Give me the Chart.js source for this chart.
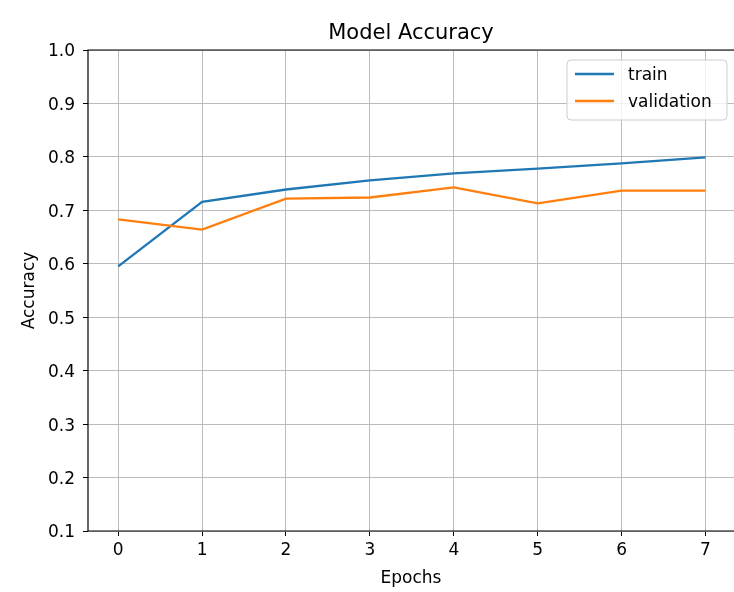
<!DOCTYPE html>
<html>
<head>
<meta charset="utf-8">
<title>Model Accuracy</title>
<script src="https://cdn.jsdelivr.net/npm/chart.js@4/dist/chart.umd.min.js"></script>
<style>
  html, body { margin: 0; padding: 0; background: #ffffff; }
  #wrap { width: 734px; height: 592px; position: relative; }
</style>
</head>
<body>
<div id="wrap"><canvas id="acc"></canvas></div>
<script>
// Training history: accuracy per epoch
const epochs = [0, 1, 2, 3, 4, 5, 6, 7];
const trainAcc = [0.595, 0.716, 0.739, 0.756, 0.769, 0.778, 0.788, 0.799];
const valAcc = [0.683, 0.664, 0.722, 0.724, 0.743, 0.713, 0.737, 0.737];
const xTicks = [0, 1, 2, 3, 4, 5, 6, 7];
const yTicks = [0.1, 0.2, 0.3, 0.4, 0.5, 0.6, 0.7, 0.8, 0.9, 1.0];
const seriesNames = ['train', 'validation'];
const seriesColors = ['#1f77b4', '#ff7f0e'];

const FONT = "'DejaVu Sans', 'Liberation Sans', sans-serif";

// Axes spines (left, top, bottom) drawn over the lines
const framePlugin = {
  id: 'frame',
  afterDatasetsDraw(chart) {
    const { ctx, chartArea: a } = chart;
    ctx.save();
    ctx.strokeStyle = '#000000';
    ctx.lineWidth = 1.2;
    ctx.beginPath();
    ctx.moveTo(a.right, a.top);
    ctx.lineTo(a.left, a.top);
    ctx.lineTo(a.left, a.bottom);
    ctx.lineTo(a.right, a.bottom);
    ctx.stroke();
    ctx.restore();
  }
};

// Title centred above the plot area
const titlePlugin = {
  id: 'plotTitle',
  afterDraw(chart) {
    const { ctx, chartArea: a } = chart;
    ctx.save();
    ctx.fillStyle = '#000000';
    ctx.font = '21px ' + FONT;
    ctx.textAlign = 'center';
    ctx.textBaseline = 'middle';
    ctx.fillText('Model Accuracy', (a.left + a.right) / 2, 34);
    ctx.restore();
  }
};

// Boxed legend in the upper-right corner of the plot
const legendPlugin = {
  id: 'boxLegend',
  afterDraw(chart) {
    const { ctx, chartArea: a } = chart;
    const right = 727, top = a.top + 10;
    const w = 160, h = 60, r = 4;
    const left = right - w;
    ctx.save();
    ctx.beginPath();
    ctx.roundRect(left, top, w, h, r);
    ctx.fillStyle = 'rgba(255,255,255,0.8)';
    ctx.fill();
    ctx.strokeStyle = '#cccccc';
    ctx.lineWidth = 1;
    ctx.stroke();
    ctx.font = '17px ' + FONT;
    ctx.textBaseline = 'middle';
    ctx.textAlign = 'left';
    chart.data.datasets.forEach((ds, i) => {
      const y = top + 14 + i * 27;
      ctx.beginPath();
      ctx.moveTo(left + 8, y);
      ctx.lineTo(left + 47, y);
      ctx.strokeStyle = ds.borderColor;
      ctx.lineWidth = 2.3;
      ctx.stroke();
      ctx.fillStyle = '#000000';
      ctx.fillText(ds.label, left + 61, y + 2);
    });
    ctx.restore();
  }
};

new Chart(document.getElementById('acc'), {
  type: 'line',
  data: {
    datasets: [
      {
        label: seriesNames[0],
        data: epochs.map((e, i) => ({ x: e, y: trainAcc[i] })),
        borderColor: seriesColors[0],
        backgroundColor: seriesColors[0],
        borderWidth: 2.3,
        pointRadius: 0,
        tension: 0,
        order: 2
      },
      {
        label: seriesNames[1],
        data: epochs.map((e, i) => ({ x: e, y: valAcc[i] })),
        borderColor: seriesColors[1],
        backgroundColor: seriesColors[1],
        borderWidth: 2.3,
        pointRadius: 0,
        tension: 0,
        order: 1
      }
    ]
  },
  options: {
    responsive: true,
    maintainAspectRatio: false,
    devicePixelRatio: 1,
    animation: false,
    layout: { padding: { top: 50, right: 0, bottom: 0, left: 0 } },
    plugins: {
      legend: { display: false },
      title: { display: false },
      tooltip: { enabled: false }
    },
    scales: {
      x: {
        type: 'linear',
        min: -0.36,
        max: 7.34,
        afterBuildTicks: (s) => { s.ticks = xTicks.map(v => ({ value: v })); },
        afterFit: (s) => { s.height = 61; },
        border: { display: false },
        grid: {
          color: '#bcbcbc',
          lineWidth: 1,
          drawTicks: true,
          tickLength: 5,
          tickColor: '#000000',
          tickWidth: 1
        },
        ticks: {
          color: '#000000',
          font: { family: FONT, size: 17 },
          padding: 4,
          maxRotation: 0,
          callback: (v) => String(v)
        },
        title: {
          display: true,
          text: 'Epochs',
          color: '#000000',
          font: { family: FONT, size: 17 },
          padding: { top: 0, bottom: 3 }
        }
      },
      y: {
        type: 'linear',
        min: 0.1,
        max: 1.0,
        afterBuildTicks: (s) => { s.ticks = yTicks.map(v => ({ value: v })); },
        afterFit: (s) => { s.width = 88; },
        border: { display: false },
        grid: {
          color: '#bcbcbc',
          lineWidth: 1,
          drawTicks: true,
          tickLength: 5,
          tickColor: '#000000',
          tickWidth: 1
        },
        ticks: {
          color: '#000000',
          font: { family: FONT, size: 17 },
          padding: 8,
          labelOffset: 2,
          callback: (v) => Number(v).toFixed(1)
        },
        title: {
          display: true,
          text: 'Accuracy',
          color: '#000000',
          font: { family: FONT, size: 17 },
          padding: { top: 19, bottom: 0 }
        }
      }
    }
  },
  plugins: [framePlugin, titlePlugin, legendPlugin]
});
</script>
</body>
</html>
